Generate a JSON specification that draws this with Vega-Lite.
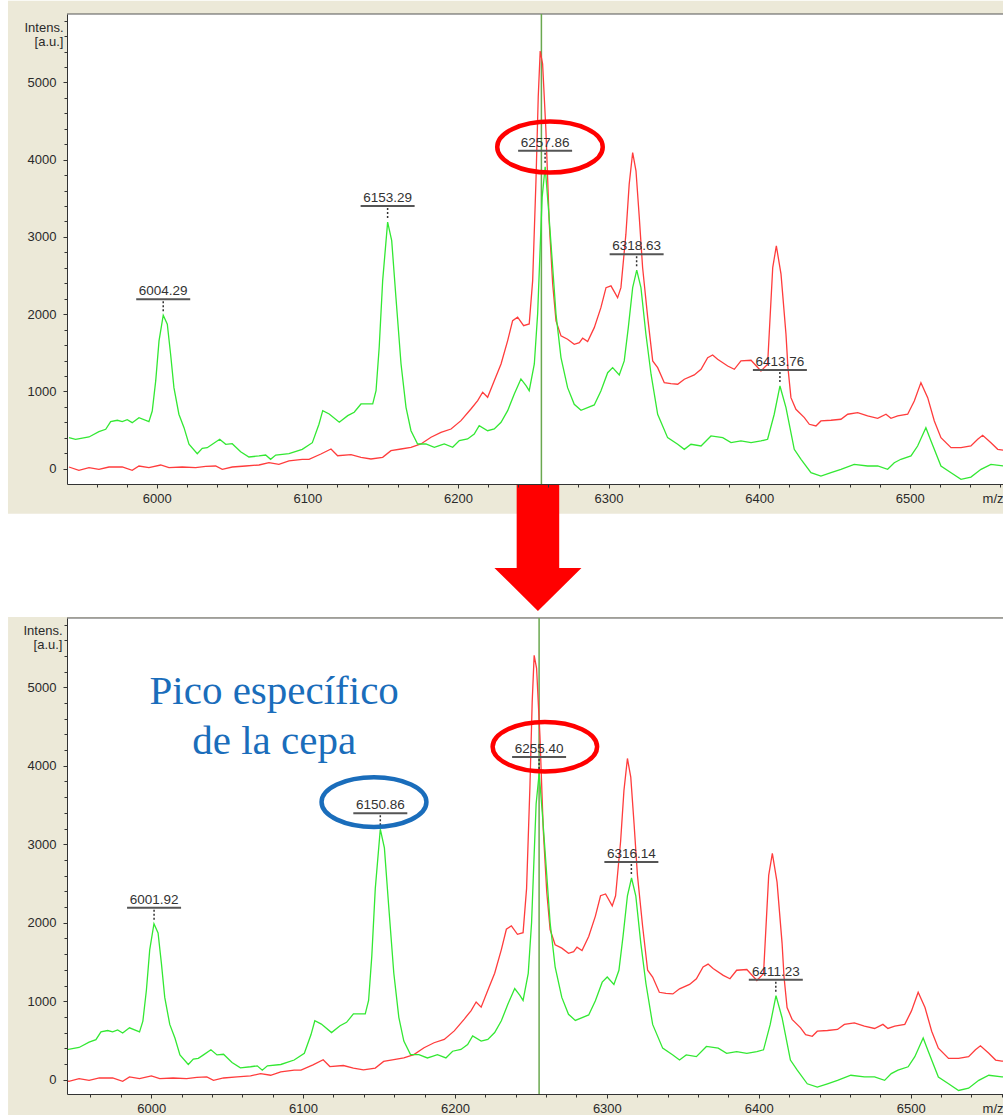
{
  "$schema": "https://vega.github.io/schema/vega-lite/v6.json",
  "background": "white",
  "padding": {"left": 7, "top": 0, "right": 0, "bottom": 0},
  "spacing": 4,
  "config": {
    "view": {"stroke": null},
    "axis": {"grid": false, "labelFont": "Liberation Sans", "labelFontSize": 13, "labelColor": "#2a2a2a", "titleFont": "Liberation Sans", "titleFontSize": 13, "titleFontWeight": "normal", "titleColor": "#2a2a2a", "domainColor": "#333", "tickColor": "#333", "labelFlush": false, "labelOverlap": false}
  },
  "datasets": {
    "tg": [{"x":5941.7,"y":402},{"x":5946.1,"y":381},{"x":5955.0,"y":411},{"x":5961.6,"y":479},{"x":5966.1,"y":510},{"x":5969.4,"y":609},{"x":5973.8,"y":627},{"x":5977.1,"y":609},{"x":5980.4,"y":635},{"x":5983.7,"y":596},{"x":5988.2,"y":661},{"x":5994.8,"y":609},{"x":5997.0,"y":747},{"x":5999.3,"y":1136},{"x":6001.5,"y":1654},{"x":6004.3,"y":1987},{"x":6007.0,"y":1870},{"x":6009.2,"y":1482},{"x":6011.4,"y":1049},{"x":6014.7,"y":705},{"x":6018.1,"y":531},{"x":6021.4,"y":316},{"x":6026.9,"y":194},{"x":6030.2,"y":264},{"x":6033.5,"y":272},{"x":6036.9,"y":316},{"x":6041.8,"y":381},{"x":6045.8,"y":316},{"x":6050.1,"y":324},{"x":6055.7,"y":220},{"x":6061.2,"y":152},{"x":6067.9,"y":165},{"x":6072.3,"y":177},{"x":6075.6,"y":122},{"x":6079.0,"y":177},{"x":6087.8,"y":194},{"x":6096.6,"y":251},{"x":6103.3,"y":337},{"x":6107.7,"y":575},{"x":6110.2,"y":751},{"x":6114.5,"y":709},{"x":6121.2,"y":601},{"x":6126.8,"y":687},{"x":6131.1,"y":731},{"x":6135.6,"y":838},{"x":6140.0,"y":838},{"x":6143.4,"y":838},{"x":6145.6,"y":1010},{"x":6147.7,"y":1572},{"x":6150.0,"y":2435},{"x":6153.3,"y":3192},{"x":6156.0,"y":2953},{"x":6158.8,"y":2220},{"x":6162.2,"y":1356},{"x":6165.5,"y":795},{"x":6168.8,"y":492},{"x":6173.2,"y":320},{"x":6178.7,"y":320},{"x":6184.3,"y":277},{"x":6187.6,"y":298},{"x":6190.9,"y":320},{"x":6196.5,"y":277},{"x":6200.9,"y":363},{"x":6206.4,"y":385},{"x":6210.8,"y":449},{"x":6214.1,"y":557},{"x":6219.7,"y":492},{"x":6224.1,"y":514},{"x":6228.6,"y":601},{"x":6233.0,"y":751},{"x":6237.4,"y":968},{"x":6241.8,"y":1162},{"x":6245.2,"y":1075},{"x":6247.3,"y":1010},{"x":6250.7,"y":1356},{"x":6252.9,"y":2004},{"x":6254.6,"y":2868},{"x":6255.9,"y":3515},{"x":6257.9,"y":3908},{"x":6260.2,"y":3338},{"x":6262.9,"y":2604},{"x":6265.1,"y":2000},{"x":6268.4,"y":1438},{"x":6272.8,"y":1049},{"x":6277.2,"y":834},{"x":6281.7,"y":756},{"x":6290.5,"y":825},{"x":6294.9,"y":1006},{"x":6299.4,"y":1243},{"x":6302.7,"y":1308},{"x":6307.1,"y":1214},{"x":6310.4,"y":1395},{"x":6313.1,"y":1826},{"x":6316.0,"y":2344},{"x":6318.7,"y":2570},{"x":6321.5,"y":2344},{"x":6324.8,"y":1741},{"x":6328.2,"y":1223},{"x":6332.6,"y":705},{"x":6339.2,"y":402},{"x":6345.9,"y":316},{"x":6350.3,"y":251},{"x":6354.7,"y":316},{"x":6361.4,"y":294},{"x":6368.0,"y":424},{"x":6375.8,"y":402},{"x":6381.3,"y":337},{"x":6387.9,"y":359},{"x":6394.6,"y":337},{"x":6401.2,"y":359},{"x":6405.6,"y":381},{"x":6410.0,"y":705},{"x":6413.8,"y":1071},{"x":6417.8,"y":790},{"x":6423.3,"y":251},{"x":6427.8,"y":122},{"x":6434.4,"y":-52},{"x":6441.0,"y":-95},{"x":6447.7,"y":-52},{"x":6454.3,"y":-8},{"x":6463.1,"y":57},{"x":6472.0,"y":35},{"x":6478.7,"y":35},{"x":6485.3,"y":-8},{"x":6489.7,"y":78},{"x":6494.1,"y":122},{"x":6500.8,"y":165},{"x":6505.2,"y":294},{"x":6510.7,"y":531},{"x":6514.1,"y":359},{"x":6520.7,"y":35},{"x":6527.4,"y":-52},{"x":6534.0,"y":-137},{"x":6540.6,"y":-108},{"x":6547.3,"y":-8},{"x":6553.9,"y":57},{"x":6562.5,"y":35}],
    "tr": [{"x":5941.7,"y":22},{"x":5948.3,"y":-21},{"x":5955.0,"y":13},{"x":5961.6,"y":-8},{"x":5968.3,"y":22},{"x":5977.1,"y":22},{"x":5983.7,"y":-21},{"x":5988.2,"y":35},{"x":5994.8,"y":13},{"x":6002.6,"y":48},{"x":6008.1,"y":13},{"x":6016.9,"y":22},{"x":6025.8,"y":13},{"x":6032.5,"y":31},{"x":6039.1,"y":35},{"x":6043.5,"y":-8},{"x":6050.1,"y":22},{"x":6059.0,"y":35},{"x":6067.9,"y":48},{"x":6074.5,"y":78},{"x":6081.1,"y":57},{"x":6087.8,"y":100},{"x":6096.6,"y":122},{"x":6101.1,"y":122},{"x":6109.0,"y":190},{"x":6115.7,"y":255},{"x":6120.1,"y":168},{"x":6129.0,"y":181},{"x":6135.6,"y":148},{"x":6142.2,"y":126},{"x":6150.0,"y":148},{"x":6155.5,"y":233},{"x":6162.2,"y":255},{"x":6168.8,"y":277},{"x":6175.4,"y":320},{"x":6182.1,"y":407},{"x":6188.7,"y":471},{"x":6195.4,"y":514},{"x":6202.0,"y":622},{"x":6208.6,"y":773},{"x":6213.1,"y":881},{"x":6216.4,"y":990},{"x":6219.7,"y":925},{"x":6224.1,"y":1140},{"x":6228.6,"y":1356},{"x":6233.0,"y":1658},{"x":6236.3,"y":1917},{"x":6239.6,"y":1961},{"x":6243.6,"y":1852},{"x":6247.3,"y":1874},{"x":6249.6,"y":2435},{"x":6251.8,"y":3730},{"x":6253.3,"y":4811},{"x":6254.6,"y":5407},{"x":6256.2,"y":5242},{"x":6258.4,"y":4378},{"x":6260.6,"y":3180},{"x":6262.9,"y":2389},{"x":6265.1,"y":1913},{"x":6268.4,"y":1719},{"x":6272.8,"y":1676},{"x":6277.2,"y":1611},{"x":6280.6,"y":1632},{"x":6282.8,"y":1689},{"x":6286.1,"y":1645},{"x":6290.5,"y":1826},{"x":6294.9,"y":2085},{"x":6298.3,"y":2344},{"x":6301.6,"y":2367},{"x":6306.0,"y":2215},{"x":6308.2,"y":2344},{"x":6311.5,"y":3036},{"x":6313.7,"y":3684},{"x":6316.0,"y":4093},{"x":6318.2,"y":3856},{"x":6320.4,"y":3251},{"x":6322.6,"y":2604},{"x":6326.0,"y":1956},{"x":6329.3,"y":1395},{"x":6332.6,"y":1308},{"x":6337.0,"y":1114},{"x":6341.4,"y":1101},{"x":6345.9,"y":1093},{"x":6350.3,"y":1158},{"x":6356.9,"y":1214},{"x":6361.4,"y":1287},{"x":6365.8,"y":1438},{"x":6369.1,"y":1473},{"x":6372.4,"y":1417},{"x":6379.1,"y":1330},{"x":6383.5,"y":1287},{"x":6387.9,"y":1395},{"x":6394.6,"y":1404},{"x":6401.2,"y":1265},{"x":6405.6,"y":1352},{"x":6409.0,"y":2604},{"x":6411.4,"y":2885},{"x":6414.5,"y":2518},{"x":6417.8,"y":1741},{"x":6419.1,"y":1308},{"x":6421.1,"y":920},{"x":6424.4,"y":769},{"x":6430.0,"y":661},{"x":6433.3,"y":575},{"x":6437.7,"y":553},{"x":6441.0,"y":618},{"x":6447.7,"y":627},{"x":6454.3,"y":640},{"x":6458.8,"y":705},{"x":6465.4,"y":725},{"x":6472.0,"y":683},{"x":6478.7,"y":653},{"x":6484.2,"y":705},{"x":6487.5,"y":653},{"x":6492.0,"y":683},{"x":6498.6,"y":705},{"x":6503.0,"y":877},{"x":6507.4,"y":1114},{"x":6511.9,"y":920},{"x":6516.3,"y":618},{"x":6520.7,"y":402},{"x":6527.4,"y":272},{"x":6534.0,"y":272},{"x":6540.6,"y":294},{"x":6545.1,"y":381},{"x":6548.4,"y":433},{"x":6553.9,"y":337},{"x":6558.4,"y":251},{"x":6562.5,"y":238}],
    "bg": [{"x":5939.25,"y":402},{"x":5943.65,"y":381},{"x":5952.55,"y":411},{"x":5959.15,"y":479},{"x":5963.65,"y":510},{"x":5966.95,"y":609},{"x":5971.35,"y":627},{"x":5974.65,"y":609},{"x":5977.95,"y":635},{"x":5981.25,"y":596},{"x":5985.75,"y":661},{"x":5992.35,"y":609},{"x":5994.55,"y":747},{"x":5996.85,"y":1136},{"x":5999.05,"y":1654},{"x":6001.85,"y":1987},{"x":6004.55,"y":1870},{"x":6006.75,"y":1482},{"x":6008.95,"y":1049},{"x":6012.25,"y":705},{"x":6015.65,"y":531},{"x":6018.95,"y":316},{"x":6024.45,"y":194},{"x":6027.75,"y":264},{"x":6031.05,"y":272},{"x":6034.45,"y":316},{"x":6039.35,"y":381},{"x":6043.35,"y":316},{"x":6047.65,"y":324},{"x":6053.25,"y":220},{"x":6058.75,"y":152},{"x":6065.45,"y":165},{"x":6069.85,"y":177},{"x":6073.15,"y":122},{"x":6076.55,"y":177},{"x":6085.35,"y":194},{"x":6094.15,"y":251},{"x":6100.85,"y":337},{"x":6105.25,"y":575},{"x":6107.75,"y":751},{"x":6112.05,"y":709},{"x":6118.75,"y":601},{"x":6124.35,"y":687},{"x":6128.65,"y":731},{"x":6133.15,"y":838},{"x":6137.55,"y":838},{"x":6140.95,"y":838},{"x":6143.15,"y":1010},{"x":6145.25,"y":1572},{"x":6147.55,"y":2435},{"x":6150.85,"y":3192},{"x":6153.55,"y":2953},{"x":6156.35,"y":2220},{"x":6159.75,"y":1356},{"x":6163.05,"y":795},{"x":6166.35,"y":492},{"x":6170.75,"y":320},{"x":6176.25,"y":320},{"x":6181.85,"y":277},{"x":6185.15,"y":298},{"x":6188.45,"y":320},{"x":6194.05,"y":277},{"x":6198.45,"y":363},{"x":6203.95,"y":385},{"x":6208.35,"y":449},{"x":6211.65,"y":557},{"x":6217.25,"y":492},{"x":6221.65,"y":514},{"x":6226.15,"y":601},{"x":6230.55,"y":751},{"x":6234.95,"y":968},{"x":6239.35,"y":1162},{"x":6242.75,"y":1075},{"x":6244.85,"y":1010},{"x":6248.25,"y":1356},{"x":6250.45,"y":2004},{"x":6252.15,"y":2868},{"x":6253.45,"y":3515},{"x":6255.45,"y":3908},{"x":6257.75,"y":3338},{"x":6260.45,"y":2604},{"x":6262.65,"y":2000},{"x":6265.95,"y":1438},{"x":6270.35,"y":1049},{"x":6274.75,"y":834},{"x":6279.25,"y":756},{"x":6288.05,"y":825},{"x":6292.45,"y":1006},{"x":6296.95,"y":1243},{"x":6300.25,"y":1308},{"x":6304.65,"y":1214},{"x":6307.95,"y":1395},{"x":6310.65,"y":1826},{"x":6313.55,"y":2344},{"x":6316.25,"y":2570},{"x":6319.05,"y":2344},{"x":6322.35,"y":1741},{"x":6325.75,"y":1223},{"x":6330.15,"y":705},{"x":6336.75,"y":402},{"x":6343.45,"y":316},{"x":6347.85,"y":251},{"x":6352.25,"y":316},{"x":6358.95,"y":294},{"x":6365.55,"y":424},{"x":6373.35,"y":402},{"x":6378.85,"y":337},{"x":6385.45,"y":359},{"x":6392.15,"y":337},{"x":6398.75,"y":359},{"x":6403.15,"y":381},{"x":6407.55,"y":705},{"x":6411.35,"y":1071},{"x":6415.35,"y":790},{"x":6420.85,"y":251},{"x":6425.35,"y":122},{"x":6431.95,"y":-52},{"x":6438.55,"y":-95},{"x":6445.25,"y":-52},{"x":6451.85,"y":-8},{"x":6460.65,"y":57},{"x":6469.55,"y":35},{"x":6476.25,"y":35},{"x":6482.85,"y":-8},{"x":6487.25,"y":78},{"x":6491.65,"y":122},{"x":6498.35,"y":165},{"x":6502.75,"y":294},{"x":6508.25,"y":531},{"x":6511.65,"y":359},{"x":6518.25,"y":35},{"x":6524.95,"y":-52},{"x":6531.55,"y":-137},{"x":6538.15,"y":-108},{"x":6544.85,"y":-8},{"x":6551.45,"y":57},{"x":6560.05,"y":35},{"x":6564.0,"y":40}],
    "br": [{"x":5939.25,"y":22},{"x":5945.85,"y":-21},{"x":5952.55,"y":13},{"x":5959.15,"y":-8},{"x":5965.85,"y":22},{"x":5974.65,"y":22},{"x":5981.25,"y":-21},{"x":5985.75,"y":35},{"x":5992.35,"y":13},{"x":6000.15,"y":48},{"x":6005.65,"y":13},{"x":6014.45,"y":22},{"x":6023.35,"y":13},{"x":6030.05,"y":31},{"x":6036.65,"y":35},{"x":6041.05,"y":-8},{"x":6047.65,"y":22},{"x":6056.55,"y":35},{"x":6065.45,"y":48},{"x":6072.05,"y":78},{"x":6078.65,"y":57},{"x":6085.35,"y":100},{"x":6094.15,"y":122},{"x":6098.65,"y":122},{"x":6106.55,"y":190},{"x":6113.25,"y":255},{"x":6117.65,"y":168},{"x":6126.55,"y":181},{"x":6133.15,"y":148},{"x":6139.75,"y":126},{"x":6147.55,"y":148},{"x":6153.05,"y":233},{"x":6159.75,"y":255},{"x":6166.35,"y":277},{"x":6172.95,"y":320},{"x":6179.65,"y":407},{"x":6186.25,"y":471},{"x":6192.95,"y":514},{"x":6199.55,"y":622},{"x":6206.15,"y":773},{"x":6210.65,"y":881},{"x":6213.95,"y":990},{"x":6217.25,"y":925},{"x":6221.65,"y":1140},{"x":6226.15,"y":1356},{"x":6230.55,"y":1658},{"x":6233.85,"y":1917},{"x":6237.15,"y":1961},{"x":6241.15,"y":1852},{"x":6244.85,"y":1874},{"x":6247.15,"y":2435},{"x":6249.35,"y":3730},{"x":6250.85,"y":4811},{"x":6252.15,"y":5407},{"x":6253.75,"y":5242},{"x":6255.95,"y":4378},{"x":6258.15,"y":3180},{"x":6260.45,"y":2389},{"x":6262.65,"y":1913},{"x":6265.95,"y":1719},{"x":6270.35,"y":1676},{"x":6274.75,"y":1611},{"x":6278.15,"y":1632},{"x":6280.35,"y":1689},{"x":6283.65,"y":1645},{"x":6288.05,"y":1826},{"x":6292.45,"y":2085},{"x":6295.85,"y":2344},{"x":6299.15,"y":2367},{"x":6303.55,"y":2215},{"x":6305.75,"y":2344},{"x":6309.05,"y":3036},{"x":6311.25,"y":3684},{"x":6313.55,"y":4093},{"x":6315.75,"y":3856},{"x":6317.95,"y":3251},{"x":6320.15,"y":2604},{"x":6323.55,"y":1956},{"x":6326.85,"y":1395},{"x":6330.15,"y":1308},{"x":6334.55,"y":1114},{"x":6338.95,"y":1101},{"x":6343.45,"y":1093},{"x":6347.85,"y":1158},{"x":6354.45,"y":1214},{"x":6358.95,"y":1287},{"x":6363.35,"y":1438},{"x":6366.65,"y":1473},{"x":6369.95,"y":1417},{"x":6376.65,"y":1330},{"x":6381.05,"y":1287},{"x":6385.45,"y":1395},{"x":6392.15,"y":1404},{"x":6398.75,"y":1265},{"x":6403.15,"y":1352},{"x":6406.55,"y":2604},{"x":6408.95,"y":2885},{"x":6412.05,"y":2518},{"x":6415.35,"y":1741},{"x":6416.65,"y":1308},{"x":6418.65,"y":920},{"x":6421.95,"y":769},{"x":6427.55,"y":661},{"x":6430.85,"y":575},{"x":6435.25,"y":553},{"x":6438.55,"y":618},{"x":6445.25,"y":627},{"x":6451.85,"y":640},{"x":6456.35,"y":705},{"x":6462.95,"y":725},{"x":6469.55,"y":683},{"x":6476.25,"y":653},{"x":6481.75,"y":705},{"x":6485.05,"y":653},{"x":6489.55,"y":683},{"x":6496.15,"y":705},{"x":6500.55,"y":877},{"x":6504.95,"y":1114},{"x":6509.45,"y":920},{"x":6513.85,"y":618},{"x":6518.25,"y":402},{"x":6524.95,"y":272},{"x":6531.55,"y":272},{"x":6538.15,"y":294},{"x":6542.65,"y":381},{"x":6545.95,"y":433},{"x":6551.45,"y":337},{"x":6555.95,"y":251},{"x":6560.05,"y":238},{"x":6564.0,"y":230}],
    "tl": [{"x":6004.29,"h":1987,"t":"6004.29"},{"x":6153.29,"h":3192,"t":"6153.29"},{"x":6257.86,"h":3908,"t":"6257.86"},{"x":6318.63,"h":2570,"t":"6318.63"},{"x":6413.76,"h":1071,"t":"6413.76"}],
    "bl": [{"x":6001.92,"h":1987,"t":"6001.92"},{"x":6150.86,"h":3192,"t":"6150.86"},{"x":6255.40,"h":3908,"t":"6255.40"},{"x":6316.14,"h":2570,"t":"6316.14"},{"x":6411.23,"h":1071,"t":"6411.23"}]
  },
  "vconcat": [
    {
      "width": 936,
      "height": 470,
      "resolve": {"axis": {"x": "independent", "y": "independent"}},
      "layer": [
        {"data": {"values": [{}]}, "mark": {"type": "rect", "color": "#ECE9D8"},
         "encoding": {
           "x": {"datum": 5901.2, "type": "quantitative", "scale": {"domain": [5940.4, 6561.9], "nice": false, "zero": false}, "axis": null},
           "x2": {"datum": 6561.9},
           "y": {"datum": 6058, "type": "quantitative", "scale": {"domain": [-198, 5886], "nice": false, "zero": false}, "axis": null},
           "y2": {"datum": -583}}},
        {"data": {"values": [{}]}, "mark": {"type": "rect", "color": "white"},
         "encoding": {
           "x": {"datum": 5940.4, "type": "quantitative", "axis": {"orient": "bottom", "zindex": 2, "values": [5960,5980,6000,6020,6040,6060,6080,6100,6120,6140,6160,6180,6200,6220,6240,6260,6280,6300,6320,6340,6360,6380,6400,6420,6440,6460,6480,6500,6520,6540,6560], "labels": false, "domain": false, "tickSize": 3, "title": null}},
           "x2": {"datum": 6561.9},
           "y": {"datum": 5886, "type": "quantitative", "axis": {"orient": "left", "zindex": 2, "values": [200,400,600,800,1000,1200,1400,1600,1800,2000,2200,2400,2600,2800,3000,3200,3400,3600,3800,4000,4200,4400,4600,4800,5000,5200,5400,5600,5800], "labels": false, "domain": false, "tickSize": 3, "title": null}},
           "y2": {"datum": -198}}},
        {"data": {"values": [{}]}, "mark": {"type": "rule", "color": "#555", "strokeWidth": 1},
         "encoding": {"y": {"datum": 5886, "type": "quantitative", "axis": null}}},
        {"data": {"values": [{}]}, "mark": {"type": "rule", "color": "#6aa84f", "strokeWidth": 1.5},
         "encoding": {"x": {"datum": 6255.4, "type": "quantitative", "axis": null}}},
        {"data": {"name": "tr"}, "mark": {"type": "line", "color": "#ff3c3c", "strokeWidth": 1.3, "clip": true},
         "encoding": {"x": {"field": "x", "type": "quantitative", "axis": null}, "y": {"field": "y", "type": "quantitative", "axis": null}}},
        {"data": {"name": "tg"}, "mark": {"type": "line", "color": "#33e833", "strokeWidth": 1.3, "clip": true},
         "encoding": {
           "x": {"field": "x", "type": "quantitative", "axis": {"orient": "bottom", "zindex": 2, "values": [6000,6100,6200,6300,6400,6500], "format": "d", "tickSize": 4, "labelPadding": 4, "title": "m/z", "titleX": 936, "titleY": 14, "titleAlign": "right", "titleBaseline": "middle"}},
           "y": {"field": "y", "type": "quantitative", "axis": {"orient": "left", "zindex": 2, "values": [0,1000,2000,3000,4000,5000], "format": "d", "tickSize": 4, "labelPadding": 7, "title": ["Intens.", "[a.u.]"], "titleAngle": 0, "titleAlign": "right", "titleBaseline": "middle", "titleX": -4, "titleY": 13, "titleLineHeight": 14}}}},
        {"data": {"name": "tl"}, "mark": {"type": "tick", "orient": "horizontal", "size": 54, "thickness": 2, "color": "#555", "opacity": 1, "yOffset": -16},
         "encoding": {"x": {"field": "x", "type": "quantitative", "axis": null}, "y": {"field": "h", "type": "quantitative", "axis": null}}},
        {"data": {"name": "tl"}, "mark": {"type": "rule", "color": "#333", "strokeWidth": 1.5, "strokeDash": [2, 2], "yOffset": -14, "y2Offset": -3},
         "encoding": {"x": {"field": "x", "type": "quantitative", "axis": null}, "y": {"field": "h", "type": "quantitative", "axis": null}, "y2": {"field": "h"}}},
        {"data": {"name": "tl"}, "mark": {"type": "text", "dy": -24, "font": "Liberation Sans", "fontSize": 13.5, "color": "#333", "baseline": "middle"},
         "encoding": {"x": {"field": "x", "type": "quantitative", "axis": null}, "y": {"field": "h", "type": "quantitative", "axis": null}, "text": {"field": "t"}}},
        {"data": {"values": [{"x": 6261.1, "y": 4164}]}, "mark": {"type": "point", "shape": "M-1,0C-1,-0.268,-0.552,-0.485,0,-0.485C0.552,-0.485,1,-0.268,1,0C1,0.268,0.552,0.485,0,0.485C-0.552,0.485,-1,0.268,-1,0Z", "size": 11130, "filled": false, "strokeWidth": 4.5, "color": "#ff0000", "opacity": 1},
         "encoding": {"x": {"field": "x", "type": "quantitative", "axis": null}, "y": {"field": "y", "type": "quantitative", "axis": null}}},
        {"data": {"values": [{"x": 6253.1, "y": -1021}]}, "mark": {"type": "point", "shape": "M-0.335,-1L0.335,-1L0.335,0.32L0.685,0.32L0,1L-0.685,0.32L-0.335,0.32Z", "size": 16129, "filled": true, "strokeWidth": 0, "color": "#ff0000", "opacity": 1},
         "encoding": {"x": {"field": "x", "type": "quantitative", "axis": null}, "y": {"field": "y", "type": "quantitative", "axis": null}}}
      ]
    },
    {
      "width": 936,
      "height": 476,
      "resolve": {"axis": {"x": "independent", "y": "independent"}},
      "layer": [
        {"data": {"values": [{}]}, "mark": {"type": "rect", "color": "#ECE9D8"},
         "encoding": {
           "x": {"datum": 5905.8, "type": "quantitative", "scale": {"domain": [5944.6, 6560.8], "nice": false, "zero": false}, "axis": null},
           "x2": {"datum": 6560.8},
           "y": {"datum": 5896, "type": "quantitative", "scale": {"domain": [-182, 5883], "nice": false, "zero": false}, "axis": null},
           "y2": {"datum": -460}}},
        {"data": {"values": [{}]}, "mark": {"type": "rect", "color": "white"},
         "encoding": {
           "x": {"datum": 5944.6, "type": "quantitative", "axis": {"orient": "bottom", "zindex": 2, "values": [5960,5980,6000,6020,6040,6060,6080,6100,6120,6140,6160,6180,6200,6220,6240,6260,6280,6300,6320,6340,6360,6380,6400,6420,6440,6460,6480,6500,6520,6540,6560], "labels": false, "domain": false, "tickSize": 3, "title": null}},
           "x2": {"datum": 6560.8},
           "y": {"datum": 5883, "type": "quantitative", "axis": {"orient": "left", "zindex": 2, "values": [200,400,600,800,1000,1200,1400,1600,1800,2000,2200,2400,2600,2800,3000,3200,3400,3600,3800,4000,4200,4400,4600,4800,5000,5200,5400,5600,5800], "labels": false, "domain": false, "tickSize": 3, "title": null}},
           "y2": {"datum": -182}}},
        {"data": {"values": [{}]}, "mark": {"type": "rule", "color": "#555", "strokeWidth": 1},
         "encoding": {"y": {"datum": 5883, "type": "quantitative", "axis": null}}},
        {"data": {"values": [{}]}, "mark": {"type": "rule", "color": "#6aa84f", "strokeWidth": 1.5},
         "encoding": {"x": {"datum": 6255.4, "type": "quantitative", "axis": null}}},
        {"data": {"name": "br"}, "mark": {"type": "line", "color": "#ff3c3c", "strokeWidth": 1.3, "clip": true},
         "encoding": {"x": {"field": "x", "type": "quantitative", "axis": null}, "y": {"field": "y", "type": "quantitative", "axis": null}}},
        {"data": {"name": "bg"}, "mark": {"type": "line", "color": "#33e833", "strokeWidth": 1.3, "clip": true},
         "encoding": {
           "x": {"field": "x", "type": "quantitative", "axis": {"orient": "bottom", "zindex": 2, "values": [6000,6100,6200,6300,6400,6500], "format": "d", "tickSize": 4, "labelPadding": 4, "title": "m/z", "titleX": 936, "titleY": 14, "titleAlign": "right", "titleBaseline": "middle"}},
           "y": {"field": "y", "type": "quantitative", "axis": {"orient": "left", "zindex": 2, "values": [0,1000,2000,3000,4000,5000], "format": "d", "tickSize": 4, "labelPadding": 7, "title": ["Intens.", "[a.u.]"], "titleAngle": 0, "titleAlign": "right", "titleBaseline": "middle", "titleX": -5, "titleY": 12, "titleLineHeight": 14}}}},
        {"data": {"name": "bl"}, "mark": {"type": "tick", "orient": "horizontal", "size": 54, "thickness": 2, "color": "#555", "opacity": 1, "yOffset": -16},
         "encoding": {"x": {"field": "x", "type": "quantitative", "axis": null}, "y": {"field": "h", "type": "quantitative", "axis": null}}},
        {"data": {"name": "bl"}, "mark": {"type": "rule", "color": "#333", "strokeWidth": 1.5, "strokeDash": [2, 2], "yOffset": -14, "y2Offset": -3},
         "encoding": {"x": {"field": "x", "type": "quantitative", "axis": null}, "y": {"field": "h", "type": "quantitative", "axis": null}, "y2": {"field": "h"}}},
        {"data": {"name": "bl"}, "mark": {"type": "text", "dy": -24, "font": "Liberation Sans", "fontSize": 13.5, "color": "#333", "baseline": "middle"},
         "encoding": {"x": {"field": "x", "type": "quantitative", "axis": null}, "y": {"field": "h", "type": "quantitative", "axis": null}, "text": {"field": "t"}}},
        {"data": {"values": [{"x": 6259.2, "y": 4243}]}, "mark": {"type": "point", "shape": "M-1,0C-1,-0.262,-0.552,-0.475,0,-0.475C0.552,-0.475,1,-0.262,1,0C1,0.262,0.552,0.475,0,0.475C-0.552,0.475,-1,0.262,-1,0Z", "size": 10920, "filled": false, "strokeWidth": 4.5, "color": "#ff0000", "opacity": 1},
         "encoding": {"x": {"field": "x", "type": "quantitative", "axis": null}, "y": {"field": "y", "type": "quantitative", "axis": null}}},
        {"data": {"values": [{"x": 6146.7, "y": 3538}]}, "mark": {"type": "point", "shape": "M-1,0C-1,-0.262,-0.552,-0.475,0,-0.475C0.552,-0.475,1,-0.262,1,0C1,0.262,0.552,0.475,0,0.475C-0.552,0.475,-1,0.262,-1,0Z", "size": 11000, "filled": false, "strokeWidth": 4.5, "color": "#1a6dbb", "opacity": 1},
         "encoding": {"x": {"field": "x", "type": "quantitative", "axis": null}, "y": {"field": "y", "type": "quantitative", "axis": null}}},
        {"data": {"values": [{"x": 6081, "y": 4787, "t": "Pico específico"}, {"x": 6081, "y": 4150, "t": "de la cepa"}]}, "mark": {"type": "text", "font": "Liberation Serif", "fontSize": 41, "color": "#1a6dbb", "align": "center", "baseline": "alphabetic"},
         "encoding": {"x": {"field": "x", "type": "quantitative", "axis": null}, "y": {"field": "y", "type": "quantitative", "axis": null}, "text": {"field": "t"}}}
      ]
    }
  ]
}
